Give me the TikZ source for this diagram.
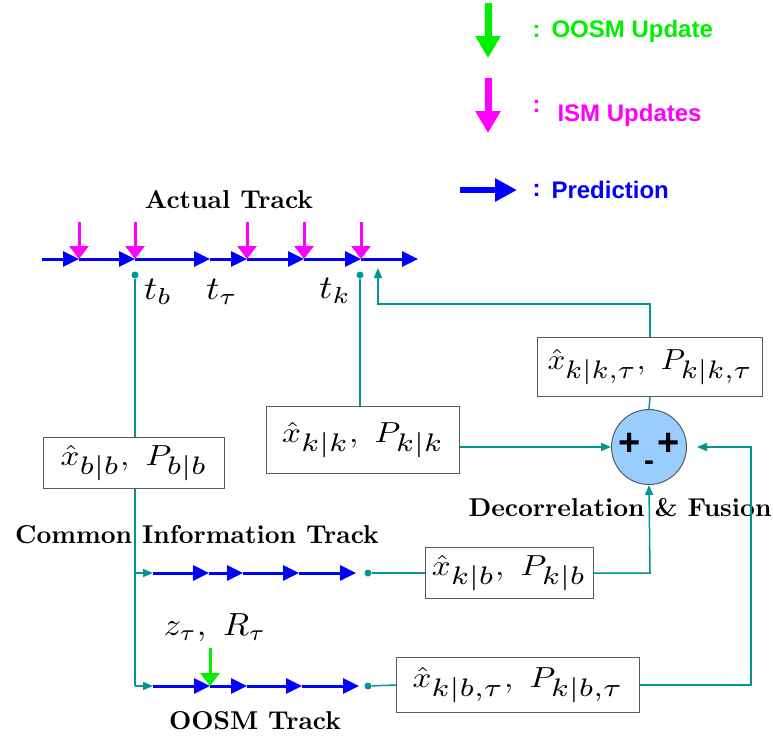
\documentclass[tikz,border=0pt]{standalone}
\usepackage{fontspec}
\newfontfamily\legfont{Liberation Sans}
\usetikzlibrary{arrows.meta}
\definecolor{tealc}{RGB}{0,150,150}
\definecolor{fuscol}{RGB}{153,204,255}
\definecolor{gcol}{RGB}{0,240,0}
\definecolor{mcol}{RGB}{255,0,255}
\definecolor{bcol}{RGB}{0,0,255}
\definecolor{boxc}{RGB}{90,90,90}
\newcommand\sbx[1]{\scalebox{1.25}{$\scriptstyle #1$}}
\newcommand\mth[3]{\scalebox{#1}[#2]{$#3$}}
\newcommand\ttx[1]{\scalebox{2.58}{\bfseries #1}}
\tikzset{
  pred/.style={draw=bcol, line width=3pt, -{Triangle[length=16pt,width=15pt]}},
  ism/.style={draw=mcol, line width=3pt, -{Triangle[length=13pt,width=19pt]}},
  oosm/.style={draw=gcol, line width=3pt, -{Triangle[length=13pt,width=19pt]}},
  tl/.style={draw=tealc, line width=1.5pt},
  tla/.style={tl, -{Triangle[length=10pt,width=8pt]}},
  dot/.style={circle, fill=tealc, inner sep=0pt, minimum size=7pt},
  est/.style={draw=boxc, line width=1pt, inner sep=0pt},
  ttl/.style={inner sep=0pt},
  mlab/.style={inner sep=0pt},
  leg/.style={font=\fontsize{24}{28}\selectfont\legfont\bfseries, anchor=west},
}
\begin{document}
\begin{tikzpicture}[x=1pt,y=-1pt]
\useasboundingbox (0,0) rectangle (773,740);
% legend
\coordinate (g1) at (488,3); \coordinate (g2) at (488,58);
\draw[draw=gcol, line width=7pt, -{Triangle[length=22pt,width=24pt]}] (g1) -- (g2);
\node[leg, text=gcol] (gc) at (529,31) {:};
\node[leg, text=gcol] (gt) at (548,31) {OOSM Update};
\coordinate (m1) at (488,78); \coordinate (m2) at (488,133);
\draw[draw=mcol, line width=7pt, -{Triangle[length=22pt,width=24pt]}] (m1) -- (m2);
\node[leg, text=mcol] (mc) at (529,106) {:};
\node[leg, text=mcol] (mt) at (554,115) {ISM Updates};
\coordinate (b1) at (460,190); \coordinate (b2) at (517,190);
\draw[draw=bcol, line width=6pt, -{Triangle[length=22pt,width=22pt]}] (b1) -- (b2);
\node[leg, text=bcol] (bc) at (529,190) {:};
\node[leg, text=bcol] (bt) at (548,190) {Prediction};
% actual track
\node[ttl] (at) at (229,200) {\ttx{Actual Track}};
\foreach \n/\x in {0/42,1/79,2/135,3/210,4/247,5/304,6/361,7/418}
  \coordinate (a\n) at (\x,259);
\foreach \p/\q in {0/1,1/2,2/3,3/4,4/5,5/6,6/7}
  \draw[pred] (a\p) -- (a\q);
\foreach \n in {1,2,4,5,6}
  \draw[ism] ([yshift=37pt]a\n) -- (a\n);
\node[dot] (db) at (135,275) {};
\node[dot] (dk) at (360,275) {};
\node[mlab] (tb) at (158,292) {\mth{3.7}{3.3}{t_b}};
\node[mlab] (tt) at (222,292) {\mth{3.7}{3.3}{t_\tau}};
\node[mlab] (tk) at (335,291) {\mth{3.7}{3.3}{t_k}};
% boxes
\node[est, minimum width=181pt, minimum height=51pt] (bb) at (134,463) {\mth{3.3}{2.9}{\hat{x}_{\sbx{b|b}},\ P_{\sbx{b|b}}}};
\node[est, minimum width=193pt, minimum height=67pt] (kk) at (363,440) {\mth{3.3}{2.9}{\hat{x}_{\sbx{k|k}},\ P_{\sbx{k|k}}}};
\node[est, minimum width=225pt, minimum height=59pt] (kkt) at (650,367) {\mth{3.1}{2.9}{\hat{x}_{\sbx{k|k,\tau}},\ P_{\sbx{k|k,\tau}}}};
\node[est, minimum width=168pt, minimum height=51pt] (kb) at (509,573) {\mth{3.3}{2.9}{\hat{x}_{\sbx{k|b}},\ P_{\sbx{k|b}}}};
\node[est, minimum width=243pt, minimum height=55pt] (kbt) at (518,685) {\mth{3.3}{2.9}{\hat{x}_{\sbx{k|b,\tau}},\ P_{\sbx{k|b,\tau}}}};
% fusion
\node[circle, draw=boxc, line width=1pt, fill=fuscol, minimum size=75pt, inner sep=0pt] (fu) at (649,447) {};
\node[font=\fontsize{38}{38}\selectfont\legfont\bfseries] (p1) at (630,444) {+};
\node[font=\fontsize{38}{38}\selectfont\legfont\bfseries] (p2) at (669,444) {+};
\node[font=\fontsize{30}{30}\selectfont\legfont\bfseries] (mi) at (649,466) {-};
\node[ttl] (df) at (620,508) {\ttx{Decorrelation \& Fusion}};
% common information and OOSM tracks
\node[ttl] (cit) at (197,535) {\ttx{Common Information Track}};
\node[ttl] (oot) at (255,721) {\ttx{OOSM Track}};
\node[mlab] (zr) at (215,628) {\mth{3.4}{3.2}{z_\tau,\ R_\tau}};
\coordinate (cib) at (135,573); \coordinate (oob) at (135,686);
\foreach \n/\x in {0/153,1/209,2/243,3/299,4/356}
  \coordinate (c\n) at (\x,573);
\foreach \n/\x in {0/153,1/210,2/247,3/302,4/359}
  \coordinate (o\n) at (\x,686);
\foreach \p/\q in {0/1,1/2,2/3,3/4}{
  \draw[pred] (c\p) -- (c\q);
  \draw[pred] (o\p) -- (o\q);}
\draw[oosm] ([yshift=38pt]o1) -- (o1);
\node[dot] (dc) at (368,573) {};
\node[dot] (do) at (368,686) {};
% teal connectors
\draw[tl] (db) -- (bb.north -| db);
\draw[tl] (bb.south -| db) -- (oob);
\draw[tla] (cib) -- (c0);
\draw[tla] (oob) -- (o0);
\draw[tl] (dk) -- (kk.north -| dk);
\draw[tla] (kkt.north) -- (650,304) -- (378,304) -- (378,268);
\draw[tl] (kkt.south) -- (fu.north);
\draw[tla] (kk.east |- fu) -- (fu.west);
\draw[tl] (dc) -- (kb.west);
\draw[tla] (kb.east) -- (650,573) -- (fu.south);
\draw[tl] (do) -- (kbt.west);
\draw[tla] (kbt.east) -- (751,685) -- (751,447) -- (697,447);
\end{tikzpicture}
\end{document}
